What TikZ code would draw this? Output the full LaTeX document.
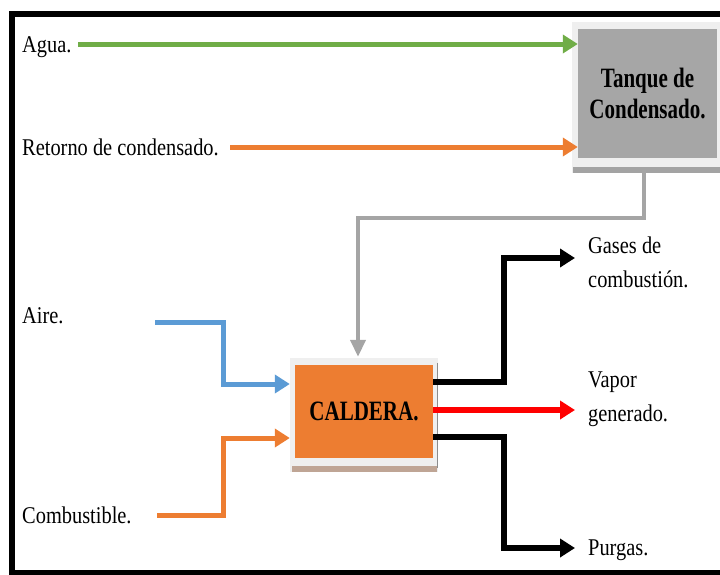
\documentclass[tikz,border=0pt]{standalone}
\usepackage{graphicx}
\usepackage{fontspec}
\setmainfont{Liberation Serif}
\usetikzlibrary{arrows.meta,calc,backgrounds}

\definecolor{flowgreen}{HTML}{70AD47}
\definecolor{floworange}{HTML}{ED7D31}
\definecolor{flowblue}{HTML}{5B9BD5}
\definecolor{flowgray}{HTML}{A5A5A5}
\definecolor{tankgray}{HTML}{A6A6A6}
\definecolor{paneface}{HTML}{EFEFEF}
\definecolor{tankshadow}{HTML}{A3A3A3}
\definecolor{boilshadow}{HTML}{BFA595}
\definecolor{edgegray}{HTML}{8C8C8C}
\definecolor{steamred}{HTML}{FF0000}

% horizontally condensed text
\newcommand\lbltxt[1]{\scalebox{0.85}[1]{#1}}
\newcommand\boxtxt[1]{\scalebox{0.75}[1]{#1}}

\begin{document}
\begin{tikzpicture}[x=1pt,y=-1pt,
  lbl/.style={font=\fontsize{24}{34}\selectfont, inner sep=0pt, align=left},
  unitbox/.style={inner sep=0pt, align=center,
    font=\bfseries\fontsize{28}{31}\selectfont},
  tankbox/.style={unitbox, fill=tankgray, minimum width=139pt, minimum height=129pt},
  boilerbox/.style={unitbox, fill=floworange, minimum width=138pt, minimum height=93pt},
  flow/.style={line width=5pt, -{Triangle[length=15pt,width=18pt]}},
  outflow/.style={line width=6pt, -{Triangle[length=15pt,width=18pt]}},
  feedflow/.style={line width=4pt, -{Triangle[length=17pt,width=15pt]}}
]
\useasboundingbox (0,0) rectangle (720,574);
\clip (0,0) rectangle (720,574);

% outer frame
\draw[line width=6pt] (12,13.5) rectangle (726,573);

% process units
\node[tankbox] (tank) at (647.5,93.5) {\boxtxt{Tanque de}\\\boxtxt{Condensado.}};
\node[boilerbox] (caldera) at (364,411.5) {\boxtxt{CALDERA.}};

\begin{scope}[on background layer]
  \fill[paneface] ($(tank.north west)+(-6,-7)$) rectangle ($(tank.south east)+(8,15)$);
  \fill[tankshadow] ($(tank.south west)+(-5,9)$) rectangle ($(tank.south east)+(8,15)$);
  \fill[paneface] ($(caldera.north west)+(-5,-7)$) rectangle ($(caldera.south east)+(5,14)$);
  \fill[boilshadow] ($(caldera.south west)+(-3,8)$) rectangle ($(caldera.south east)+(4,14)$);
  \draw[line width=1pt, edgegray] ($(caldera.north east)+(4,-2)$) -- ($(caldera.south east)+(4,10)$);
\end{scope}

% labels
\node[lbl, anchor=base west] (agua) at (22,52) {\lbltxt{Agua.}};
\node[lbl, anchor=base west] (retorno) at (22,155) {\lbltxt{Retorno de condensado.}};
\node[lbl, anchor=base west] (aire) at (22,323) {\lbltxt{Aire.}};
\node[lbl, anchor=base west] (comb) at (22,523) {\lbltxt{Combustible.}};
\node[lbl, anchor=north west] (gases) at (588,237) {\lbltxt{Gases de}\\\lbltxt{combustión.}};
\node[lbl, anchor=north west] (vapor) at (588,372) {\lbltxt{Vapor}\\\lbltxt{generado.}};
\node[lbl, anchor=base west] (purgas) at (588,555) {\lbltxt{Purgas.}};

% free ends and bend lines
\coordinate (aguaS) at (78,44);
\coordinate (retS) at (230,147);
\coordinate (aireS) at (155,322);
\coordinate (combS) at (157,515);
\coordinate (feedX) at (223,0);
\coordinate (outX) at (504,0);
\coordinate (tipX) at (575,0);
\coordinate (grayKnee) at (0,218);
\coordinate (tankOut) at ($(tank.south)+(-4,12)$);
\coordinate (grayIn) at ($(caldera.north)+(-6,-8)$);
\coordinate (aireIn) at ($(caldera.west)+(-5,-27.5)$);
\coordinate (combIn) at ($(caldera.west)+(-5,26.5)$);
\coordinate (gasOut) at ($(caldera.east)+(0,-29.5)$);
\coordinate (vapOut) at ($(caldera.east)+(0,-1.5)$);
\coordinate (purOut) at ($(caldera.east)+(0,25.5)$);
\coordinate (gasTip) at (575,258);
\coordinate (purTip) at (575,548);

% feeds to the tank
\draw[flow, flowgreen] (aguaS) -- (aguaS -| tank.west);
\draw[flow, floworange] (retS) -- (retS -| tank.west);

% tank to boiler
\draw[feedflow, flowgray] (tankOut) -- (tankOut |- grayKnee) -| (grayIn);

% air and fuel
\draw[flow, flowblue] (aireS) -| (feedX |- aireIn) -- (aireIn);
\draw[flow, floworange] (combS) -| (feedX |- combIn) -- (combIn);

% boiler outputs
\draw[outflow, black] (gasOut) -| (outX |- gasTip) -- (gasTip);
\draw[outflow, steamred] (vapOut) -- (vapOut -| tipX);
\draw[outflow, black] (purOut) -| (outX |- purTip) -- (purTip);
\end{tikzpicture}
\end{document}
